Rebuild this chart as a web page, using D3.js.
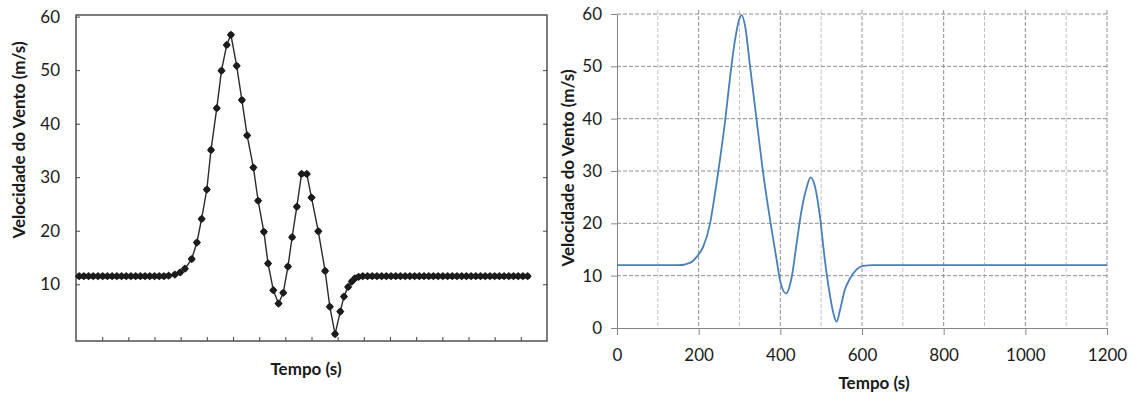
<!DOCTYPE html>
<html>
<head>
<meta charset="utf-8">
<script src="https://cdn.jsdelivr.net/npm/d3@7"></script>
<style>
  body { margin: 0; background: #fff; }
  text { font-family: Lato, 'Open Sans', sans-serif; fill: #1a1a1a; }
</style>
</head>
<body>
<div id="chart"></div>
<script>
// left panel: measured samples (time in s, speed in m/s)
const leftTimes = [
  6, 15, 24, 33, 42, 51, 60, 69, 78, 87, 96, 105, 114, 123, 132, 141, 150, 159, 168, 177,
  189, 199, 208, 221, 231, 240, 250, 258, 269, 278, 288, 296, 307, 317, 327, 339, 348,
  359, 367, 377, 387, 396, 405, 413, 422, 431, 441, 450, 463, 476, 485, 495, 505, 512,
  520, 527, 533, 540,
  548, 557, 566, 575, 584, 593, 602, 611, 620, 629, 638, 647, 656, 665, 674, 683, 692,
  701, 710, 719, 728, 737, 746, 755, 764, 773, 782, 791, 800, 809, 818, 827, 836, 845,
  854, 863
];
const leftSpeeds = [
  11.5, 11.5, 11.5, 11.5, 11.5, 11.5, 11.5, 11.5, 11.5, 11.5, 11.5, 11.5, 11.5, 11.5,
  11.5, 11.5, 11.5, 11.5, 11.5, 11.6,
  11.8, 12.2, 12.9, 14.7, 17.8, 22.2, 27.7, 35.1, 42.9, 49.9, 54.7, 56.6, 50.8, 44.4,
  37.8, 31.8, 25.6, 19.8, 13.9, 8.9, 6.4, 8.4, 13.3, 18.8, 24.5, 30.6, 30.6, 26.2, 19.9,
  12.5, 5.8, 0.7, 4.9, 7.7, 9.5, 10.5, 11.1, 11.4,
  11.5, 11.5, 11.5, 11.5, 11.5, 11.5, 11.5, 11.5, 11.5, 11.5, 11.5, 11.5, 11.5, 11.5,
  11.5, 11.5, 11.5, 11.5, 11.5, 11.5, 11.5, 11.5, 11.5, 11.5, 11.5, 11.5, 11.5, 11.5,
  11.5, 11.5, 11.5, 11.5, 11.5, 11.5, 11.5, 11.5
];
const leftYTicks = [10, 20, 30, 40, 50, 60];
const leftXTicks = [50, 100, 150, 200, 250, 300, 350, 400, 450, 500, 550, 600, 650, 700, 750, 800, 850];

// right panel: simulated curve
const rightTimes = [
  0, 150, 180, 195, 211, 228, 240, 252, 265, 277, 289, 299, 305, 314, 326, 342, 358,
  375, 391, 399, 414, 428, 440, 452, 465, 474, 485, 497, 509, 522, 532, 538, 546, 558,
  571, 587, 603, 628, 700, 1200
];
const rightSpeeds = [
  12, 12, 12.5, 13.6, 15.5, 20, 25.7, 32.1, 39.7, 48, 55, 58.9, 59.8, 57.6, 49.9, 39.7,
  29.6, 20.6, 13, 9.2, 6.6, 9.8, 16.2, 22.5, 27, 28.8, 27, 21.3, 13, 6, 2.2, 1.2, 3.4,
  7.3, 9.5, 11.2, 11.85, 12, 12, 12
];
const rightYTicks = [0, 10, 20, 30, 40, 50, 60];
const rightXTicks = [0, 200, 400, 600, 800, 1000, 1200];
const rightGrid = [100, 200, 300, 400, 500, 600, 700, 800, 900, 1000, 1100, 1200];

const svg = d3
  .select('#chart')
  .append('svg')
  .attr('width', 1137)
  .attr('height', 394);

svg.append('rect').attr('width', 1137).attr('height', 394).attr('fill', '#fff');

// ---------- left panel ----------
const lx = d3.scaleLinear().domain([0, 900]).range([76, 547]);
const ly = d3.scaleLinear().domain([-0.6, 60.3]).range([341, 15]);

const left = svg.append('g');

left
  .append('rect')
  .attr('x', 76)
  .attr('y', 15)
  .attr('width', 471)
  .attr('height', 326)
  .attr('fill', 'none')
  .attr('stroke', '#444')
  .attr('stroke-width', 1.4);

const lAxisY = left
  .append('g')
  .attr('transform', 'translate(76,0)')
  .call(d3.axisLeft(ly).tickValues(leftYTicks).tickSize(-4).tickSizeOuter(0).tickPadding(16));
lAxisY.select('.domain').remove();
lAxisY.selectAll('line').attr('stroke', '#444');
lAxisY.selectAll('text').style('font-size', '17px');

const lAxisR = left
  .append('g')
  .attr('transform', 'translate(547,0)')
  .call(d3.axisRight(ly).tickValues(leftYTicks.slice(0, 5)).tickSize(-4).tickSizeOuter(0).tickFormat(''));
lAxisR.select('.domain').remove();
lAxisR.selectAll('line').attr('stroke', '#444');

const lAxisB = left
  .append('g')
  .attr('transform', 'translate(0,341)')
  .call(d3.axisBottom(lx).tickValues(leftXTicks).tickSize(-4).tickSizeOuter(0).tickFormat(''));
lAxisB.select('.domain').remove();
lAxisB.selectAll('line').attr('stroke', '#444');

const leftPts = leftTimes.map((t, i) => [t, leftSpeeds[i]]);

left
  .append('path')
  .datum(leftPts)
  .attr('fill', 'none')
  .attr('stroke', '#2a2a2a')
  .attr('stroke-width', 1.4)
  .attr('d', d3.line().x((d) => lx(d[0])).y((d) => ly(d[1])));

left
  .append('g')
  .selectAll('path')
  .data(leftPts)
  .join('path')
  .attr('d', d3.symbol().type(d3.symbolSquare).size(34))
  .attr('transform', (d) => `translate(${lx(d[0])},${ly(d[1])}) rotate(45)`)
  .attr('fill', '#1c1c1c');

left
  .append('g')
  .selectAll('circle')
  .data(leftPts)
  .join('circle')
  .attr('cx', (d) => lx(d[0]))
  .attr('cy', (d) => ly(d[1]))
  .attr('r', 3)
  .attr('fill', '#1c1c1c');

left
  .append('text')
  .attr('x', 306)
  .attr('y', 375)
  .attr('text-anchor', 'middle')
  .style('font-size', '17px')
  .style('font-weight', 'bold')
  .text('Tempo (s)');

left
  .append('text')
  .attr('transform', 'translate(25,140) rotate(-90)')
  .attr('text-anchor', 'middle')
  .style('font-size', '17px')
  .style('font-weight', 'bold')
  .text('Velocidade do Vento (m/s)');

// ---------- right panel ----------
const rx = d3.scaleLinear().domain([0, 1200]).range([617, 1107]);
const ry = d3.scaleLinear().domain([0, 60]).range([328, 14]);

const right = svg.append('g');

right
  .append('g')
  .selectAll('line')
  .data(rightGrid)
  .join('line')
  .attr('x1', (d) => rx(d))
  .attr('x2', (d) => rx(d))
  .attr('y1', 10)
  .attr('y2', 328)
  .attr('stroke', (d) => (d % 200 === 0 ? '#8f8f8f' : '#c2c2c2'))
  .attr('stroke-width', 1)
  .attr('stroke-dasharray', '4,2');

right
  .append('g')
  .selectAll('line')
  .data(rightYTicks.slice(1))
  .join('line')
  .attr('x1', 617)
  .attr('x2', 1107)
  .attr('y1', (d) => ry(d))
  .attr('y2', (d) => ry(d))
  .attr('stroke', '#8f8f8f')
  .attr('stroke-width', 1)
  .attr('stroke-dasharray', '4,2');

const rAxisY = right
  .append('g')
  .attr('transform', 'translate(617,0)')
  .call(d3.axisLeft(ry).tickValues(rightYTicks).tickSize(6).tickSizeOuter(0).tickPadding(9));
rAxisY.select('.domain').attr('stroke', '#868686');
rAxisY.selectAll('line').attr('stroke', '#868686');
rAxisY.selectAll('text').style('font-size', '17px');

const rAxisX = right
  .append('g')
  .attr('transform', 'translate(0,328)')
  .call(
    d3
      .axisBottom(rx)
      .tickValues(rightXTicks)
      .tickFormat(d3.format('d'))
      .tickSize(7)
      .tickSizeOuter(0)
      .tickPadding(14)
  );
rAxisX.select('.domain').attr('stroke', '#868686');
rAxisX.selectAll('line').attr('stroke', '#868686');
rAxisX.selectAll('text').style('font-size', '17px');

right
  .append('path')
  .datum(rightTimes.map((t, i) => [t, rightSpeeds[i]]))
  .attr('fill', 'none')
  .attr('stroke', '#4a7ebb')
  .attr('stroke-width', 1.8)
  .attr('d', d3.line().curve(d3.curveMonotoneX).x((d) => rx(d[0])).y((d) => ry(d[1])));

right
  .append('text')
  .attr('x', 874)
  .attr('y', 389)
  .attr('text-anchor', 'middle')
  .style('font-size', '17px')
  .style('font-weight', 'bold')
  .text('Tempo (s)');

right
  .append('text')
  .attr('transform', 'translate(574,168) rotate(-90)')
  .attr('text-anchor', 'middle')
  .style('font-size', '17px')
  .style('font-weight', 'bold')
  .text('Velocidade do Vento (m/s)');
</script>
</body>
</html>
